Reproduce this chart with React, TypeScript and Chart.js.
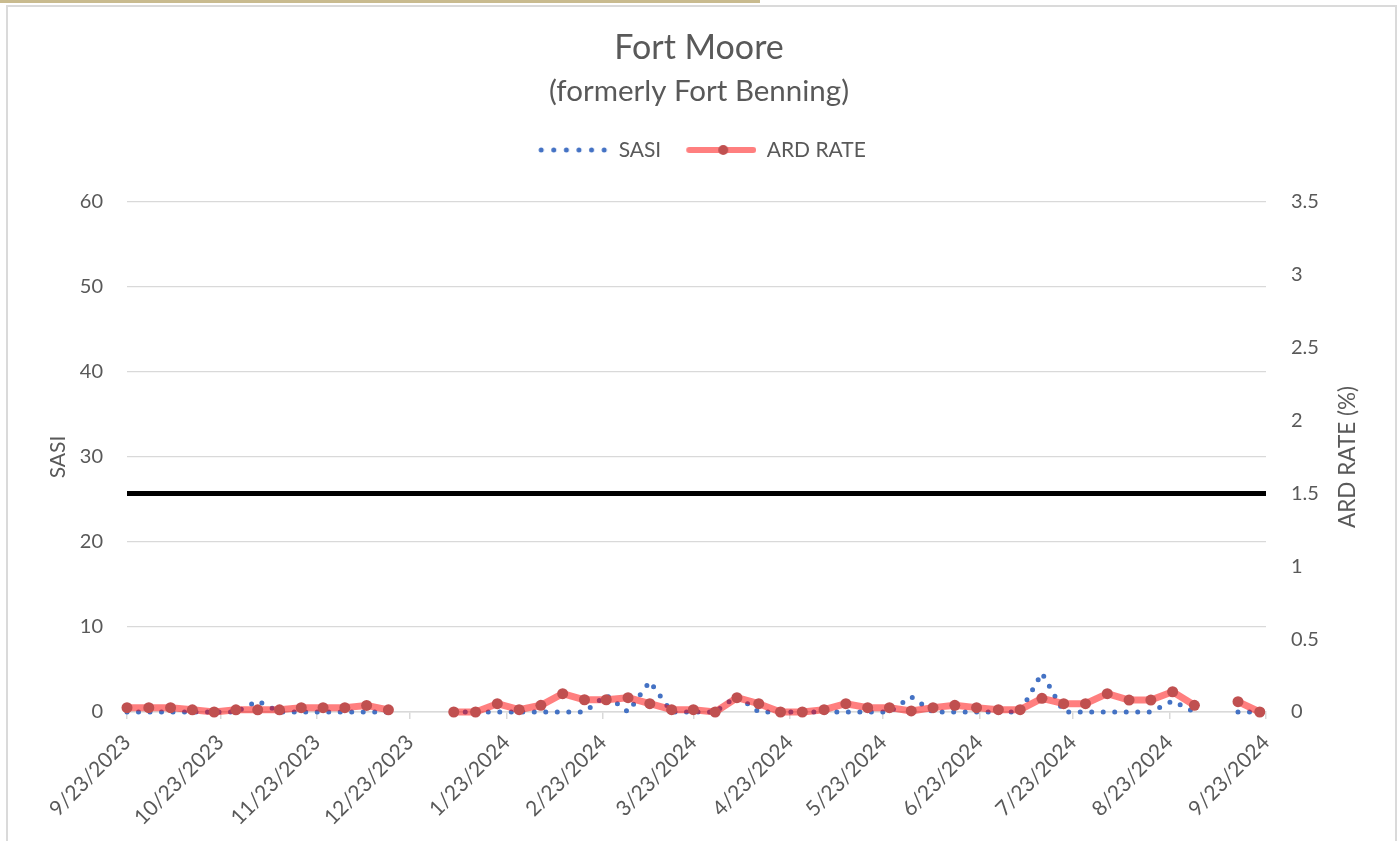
import React, { useEffect, useRef } from 'react';
import { Chart, registerables } from 'chart.js';

Chart.register(...registerables);

// ---------- DATA ----------
const weekDates: string[] = [
  '9/23/2023', '9/30/2023', '10/7/2023', '10/14/2023', '10/21/2023', '10/28/2023',
  '11/4/2023', '11/11/2023', '11/18/2023', '11/25/2023', '12/2/2023', '12/9/2023',
  '12/16/2023', '12/23/2023', '12/30/2023', '1/6/2024', '1/13/2024', '1/20/2024',
  '1/27/2024', '2/3/2024', '2/10/2024', '2/17/2024', '2/24/2024', '3/2/2024',
  '3/9/2024', '3/16/2024', '3/23/2024', '3/30/2024', '4/6/2024', '4/13/2024',
  '4/20/2024', '4/27/2024', '5/4/2024', '5/11/2024', '5/18/2024', '5/25/2024',
  '6/1/2024', '6/8/2024', '6/15/2024', '6/22/2024', '6/29/2024', '7/6/2024',
  '7/13/2024', '7/20/2024', '7/27/2024', '8/3/2024', '8/10/2024', '8/17/2024',
  '8/24/2024', '8/31/2024', '9/7/2024', '9/14/2024', '9/21/2024',
];

const sasiValues: (number | null)[] = [
  0, 0, 0, 0, 0, 0, 1.3, 0, 0, 0, 0, 0, 0, null, null,
  0, 0, 0, 0, 0, 0, 0, 2.0, 0, 3.6, 0, 0, 0, 1.9, 0,
  0, 0, 0, 0, 0, 0, 1.8, 0, 0, 0, 0, 0, 4.6, 0, 0,
  0, 0, 0, 1.3, 0, null, 0, 0,
];

const ardValues: (number | null)[] = [
  0.03, 0.03, 0.03, 0.015, 0, 0.015, 0.015, 0.015, 0.03, 0.03, 0.03, 0.045, 0.015, null, null,
  0, 0, 0.057, 0.016, 0.046, 0.126, 0.084, 0.084, 0.098, 0.057, 0.016, 0.016, 0, 0.098, 0.057,
  0, 0, 0.016, 0.057, 0.03, 0.03, 0.007, 0.03, 0.046, 0.03, 0.016, 0.016, 0.094, 0.057, 0.057,
  0.126, 0.082, 0.082, 0.139, 0.046, null, 0.071, 0,
];

const tickDates: string[] = [
  '9/23/2023', '10/23/2023', '11/23/2023', '12/23/2023', '1/23/2024', '2/23/2024',
  '3/23/2024', '4/23/2024', '5/23/2024', '6/23/2024', '7/23/2024', '8/23/2024', '9/23/2024',
];

const ardThreshold = 1.5;

const sasiTicks = { min: 0, max: 60, step: 10 };
const ardTicks = { min: 0, max: 3.5, step: 0.5 };

// ---------- HELPERS ----------
const toUTC = (s: string) => {
  const [m, d, y] = s.split('/').map(Number);
  return Date.UTC(y, m - 1, d);
};
const origin = toUTC(tickDates[0]);
const dayOf = (s: string) => Math.round((toUTC(s) - origin) / 86400000);

const TEXT = '#595959';
const GRID = '#D9D9D9';
const BLUE = '#4472C4';
const RED_LINE = 'rgba(255, 0, 0, 0.5)';
const RED_MARK = 'rgb(192, 80, 80)';
const FONT = 'Lato';

function sasiSwatch() {
  const c = document.createElement('canvas');
  c.width = 76;
  c.height = 10;
  const g = c.getContext('2d')!;
  g.fillStyle = BLUE;
  for (let i = 0; i < 6; i++) {
    g.beginPath();
    g.arc(9 + i * 12.6, 5, 2.5, 0, Math.PI * 2);
    g.fill();
  }
  return c;
}

function ardSwatch() {
  const c = document.createElement('canvas');
  c.width = 76;
  c.height = 12;
  const g = c.getContext('2d')!;
  g.strokeStyle = RED_LINE;
  g.lineWidth = 6;
  g.lineCap = 'round';
  g.beginPath();
  g.moveTo(9, 6);
  g.lineTo(73, 6);
  g.stroke();
  g.fillStyle = RED_MARK;
  g.beginPath();
  g.arc(43, 6, 5, 0, Math.PI * 2);
  g.fill();
  return c;
}

const legendGap = {
  id: 'legendGap',
  afterInit(chart: any) {
    const lg = chart.legend;
    if (!lg || lg.__patched) return;
    const orig = lg.fit;
    lg.fit = function () {
      orig.call(this);
      this.height += 31.5;
    };
    lg.__patched = true;
  },
};

const rightTitle = {
  id: 'rightTitle',
  afterDraw(chart: any) {
    const { ctx, chartArea } = chart;
    const s = chart.scales.y1;
    ctx.save();
    ctx.translate(s.right - 50, (chartArea.top + chartArea.bottom) / 2);
    ctx.rotate(-Math.PI / 2);
    ctx.font = `22.5px ${FONT}`;
    ctx.fillStyle = TEXT;
    ctx.textAlign = 'center';
    ctx.textBaseline = 'middle';
    ctx.fillText('ARD RATE (%)', 0, 0);
    ctx.restore();
  },
};

export default function App() {
  const ref = useRef<HTMLCanvasElement | null>(null);

  useEffect(() => {
    if (!ref.current) return;
    const tickDays = tickDates.map(dayOf);
    const sasiPts = weekDates.map((d, i) => ({ x: dayOf(d), y: sasiValues[i] }));
    const ardPts = weekDates.map((d, i) => ({ x: dayOf(d), y: ardValues[i] }));
    const thrPts = [
      { x: tickDays[0], y: ardThreshold },
      { x: tickDays[tickDays.length - 1], y: ardThreshold },
    ];
    const sw1 = sasiSwatch();
    const sw2 = ardSwatch();

    const chart = new Chart(ref.current, {
      type: 'line',
      data: {
        datasets: [
          {
            label: 'SASI',
            data: sasiPts as any,
            yAxisID: 'y',
            borderColor: BLUE,
            borderWidth: 5,
            borderDash: [0, 11.5],
            borderCapStyle: 'round',
            pointRadius: 0,
            tension: 0,
            spanGaps: false,
            clip: false as any,
            order: 2,
          },
          {
            label: 'ARD RATE',
            data: ardPts as any,
            yAxisID: 'y1',
            borderColor: RED_LINE,
            borderWidth: 7,
            borderJoinStyle: 'round',
            borderCapStyle: 'round',
            pointRadius: 5.5,
            pointBackgroundColor: RED_MARK,
            pointBorderWidth: 0,
            tension: 0,
            spanGaps: false,
            clip: false as any,
            order: 1,
          },
          {
            label: 'Threshold',
            data: thrPts as any,
            yAxisID: 'y1',
            borderColor: '#000000',
            borderWidth: 5,
            pointRadius: 0,
            tension: 0,
            order: 0,
          },
        ],
      },
      options: {
        responsive: false,
        animation: false,
        events: [],
        layout: { padding: 0 },
        plugins: {
          title: {
            display: true,
            text: 'Fort Moore',
            color: TEXT,
            font: { family: FONT, size: 34, weight: 'normal' },
            padding: { top: 27.6, bottom: 0 },
          },
          subtitle: {
            display: true,
            text: '(formerly Fort Benning)',
            color: TEXT,
            font: { family: FONT, size: 29.5, weight: 'normal' },
            padding: { top: 4.9, bottom: 11.8 },
          },
          legend: {
            display: true,
            position: 'top',
            labels: {
              usePointStyle: true,
              pointStyleWidth: 76,
              padding: 19,
              color: TEXT,
              font: { family: FONT, size: 21 },
              generateLabels: () => [
                {
                  text: 'SASI',
                  pointStyle: sw1 as any,
                  fillStyle: BLUE,
                  strokeStyle: BLUE,
                  lineWidth: 0,
                  hidden: false,
                  datasetIndex: 0,
                  fontColor: TEXT,
                },
                {
                  text: 'ARD RATE',
                  pointStyle: sw2 as any,
                  fillStyle: RED_MARK,
                  strokeStyle: RED_MARK,
                  lineWidth: 0,
                  hidden: false,
                  datasetIndex: 1,
                  fontColor: TEXT,
                },
              ],
            },
          },
          tooltip: { enabled: false },
        },
        scales: {
          x: {
            type: 'linear',
            min: tickDays[0],
            max: tickDays[tickDays.length - 1],
            afterBuildTicks: (scale: any) => {
              scale.ticks = tickDays.map((v) => ({ value: v }));
            },
            afterFit: (scale: any) => {
              scale.height = 129;
            },
            ticks: {
              autoSkip: false,
              maxRotation: 45,
              minRotation: 45,
              padding: 11,
              color: TEXT,
              font: { family: FONT, size: 21 },
              callback: (_v: any, i: number) => tickDates[i],
            },
            grid: {
              drawOnChartArea: false,
              drawTicks: true,
              tickLength: 7,
              color: GRID,
              lineWidth: 1.5,
            },
            border: { display: true, color: GRID, width: 1.5 },
          },
          y: {
            position: 'left',
            min: sasiTicks.min,
            max: sasiTicks.max,
            afterFit: (scale: any) => {
              scale.width = 127;
            },
            ticks: {
              stepSize: sasiTicks.step,
              padding: 24,
              color: TEXT,
              font: { family: FONT, size: 20 },
            },
            grid: { color: GRID, lineWidth: 1.3, drawTicks: false },
            border: { display: false },
            title: {
              display: true,
              text: 'SASI',
              color: TEXT,
              font: { family: FONT, size: 21 },
              padding: { top: 45.5, bottom: 0 },
            },
          },
          y1: {
            position: 'right',
            min: ardTicks.min,
            max: ardTicks.max,
            afterFit: (scale: any) => {
              scale.width = 132;
            },
            ticks: {
              stepSize: ardTicks.step,
              padding: 25,
              color: TEXT,
              font: { family: FONT, size: 20 },
              callback: (v: any) => String(Number(v)),
            },
            grid: { display: false, drawTicks: false },
            border: { display: false },
          },
        },
      } as any,
      plugins: [legendGap, rightTitle],
    });

    return () => chart.destroy();
  }, []);

  return (
    <div
      style={{
        position: 'fixed',
        left: 0,
        top: 0,
        width: 1398,
        height: 841,
        background: '#ffffff',
        overflow: 'hidden',
      }}
    >
      <div
        style={{
          position: 'absolute',
          left: 0,
          top: 0,
          width: 760,
          height: 3,
          background: '#C9BB8F',
        }}
      />
      <div
        style={{
          position: 'absolute',
          left: 6,
          top: 5,
          width: 1391,
          height: 900,
          border: '2px solid #DADADA',
          boxSizing: 'border-box',
        }}
      />
      <canvas
        ref={ref}
        width={1398}
        height={841}
        style={{ position: 'absolute', left: 0, top: 0, width: 1398, height: 841 }}
      />
    </div>
  );
}
